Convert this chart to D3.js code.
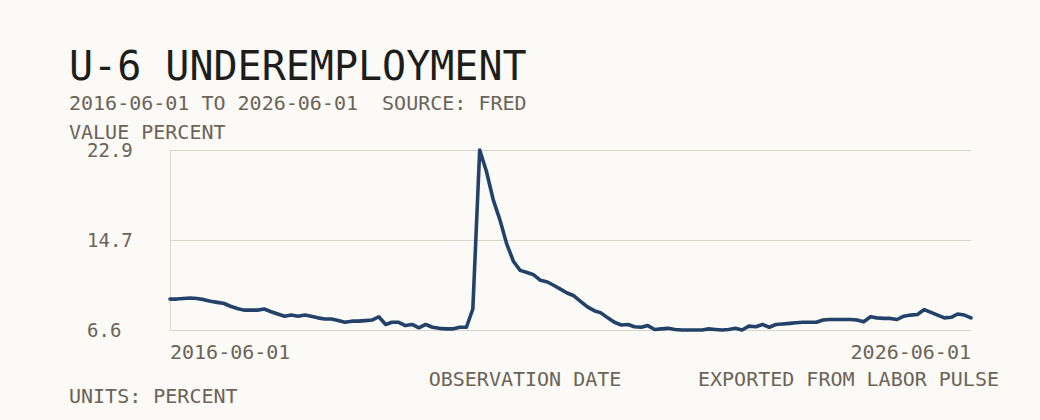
<!DOCTYPE html>
<html>
<head>
<meta charset="utf-8">
<script src="https://cdn.jsdelivr.net/npm/d3@7"></script>
<style>
  body { margin: 0; background: #fbfaf7; }
  text { font-family: "DejaVu Sans Mono", "Liberation Mono", monospace; }
</style>
</head>
<body>
<div id="chart"></div>
<script>
// Chart data (monthly)
var startDate = "2016-06-01";
var u6Values = [
  9.4, 9.4, 9.45, 9.5, 9.45, 9.35, 9.2, 9.1, 9.0, 8.75,
  8.55, 8.4, 8.4, 8.4, 8.5, 8.25, 8.05, 7.85, 7.95, 7.85,
  7.95, 7.85, 7.7, 7.6, 7.6, 7.45, 7.3, 7.4, 7.4, 7.45,
  7.5, 7.8, 7.1, 7.3, 7.3, 7.0, 7.1, 6.8, 7.1, 6.85,
  6.75, 6.7, 6.7, 6.85, 6.85, 8.5, 22.9, 21.0, 18.4, 16.6,
  14.4, 12.8, 12.0, 11.8, 11.6, 11.1, 10.95, 10.65, 10.3, 9.95,
  9.7, 9.2, 8.7, 8.35, 8.15, 7.7, 7.3, 7.05, 7.1, 6.9,
  6.85, 7.0, 6.65, 6.7, 6.75, 6.65, 6.6, 6.6, 6.6, 6.6,
  6.7, 6.65, 6.6, 6.65, 6.75, 6.6, 6.95, 6.9, 7.1, 6.85,
  7.1, 7.15, 7.2, 7.25, 7.3, 7.3, 7.3, 7.5, 7.55, 7.55,
  7.55, 7.55, 7.5, 7.35, 7.8, 7.7, 7.65, 7.65, 7.55, 7.85,
  7.95, 8.0, 8.45, 8.2, 7.95, 7.7, 7.75, 8.05, 7.95, 7.7
];
var yTickValues = [6.6, 14.75, 22.9];
var yTickLabels = ["6.6", "14.7", "22.9"];
var xTickLabels = ["2016-06-01", "2026-06-01"];

// Size of the svg and the plot area
var svgWidth = 1040;
var svgHeight = 420;
var plot = { left: 170, right: 971, top: 150, bottom: 330 };

var inkColor = "#1d1d1b";
var mutedColor = "#6b6357";
var gridColor = "#d9d5cd";
var lineColor = "#23426a";

var parseDate = d3.timeParse("%Y-%m-%d");
var start = parseDate(startDate);
var data = u6Values.map(function(v, i) {
  return { date: d3.timeMonth.offset(start, i), value: v };
});

var svg = d3.select("#chart")
  .append("svg")
  .attr("width", svgWidth)
  .attr("height", svgHeight)
  .style("background", "#fbfaf7");

// Scales
var xScale = d3.scaleTime()
  .domain(d3.extent(data, d => d.date))
  .range([plot.left, plot.right]);

var yScale = d3.scaleLinear()
  .domain([6.6, 22.9])
  .range([plot.bottom, plot.top]);

// Titles
svg.append("text")
  .attr("x", 69)
  .attr("y", 80)
  .attr("fill", inkColor)
  .style("font-size", "40px")
  .text("U-6 UNDEREMPLOYMENT");

svg.append("text")
  .attr("x", 69)
  .attr("y", 110)
  .attr("fill", mutedColor)
  .style("font-size", "20px")
  .attr("xml:space", "preserve")
  .text("2016-06-01 TO 2026-06-01  SOURCE: FRED");

svg.append("text")
  .attr("x", 69)
  .attr("y", 139)
  .attr("fill", mutedColor)
  .style("font-size", "20px")
  .text("VALUE PERCENT");

// Gridlines + y labels
var yAxis = d3.axisLeft(yScale)
  .tickValues(yTickValues)
  .tickSize(plot.left - plot.right)
  .tickFormat((d, i) => yTickLabels[i]);

var yAxisGroup = svg.append("g")
  .attr("transform", `translate(${plot.left},0)`)
  .call(yAxis);

yAxisGroup.select(".domain").remove();
yAxisGroup.selectAll(".tick line")
  .attr("stroke", gridColor)
  .attr("shape-rendering", "crispEdges");
yAxisGroup.selectAll(".tick text")
  .attr("x", 87 - plot.left)
  .attr("text-anchor", "start")
  .attr("dy", "0.36em")
  .attr("fill", mutedColor)
  .style("font-size", "19px")
  .style("font-family", "'DejaVu Sans Mono', monospace");

// left axis line
svg.append("line")
  .attr("x1", plot.left)
  .attr("x2", plot.left)
  .attr("y1", plot.top)
  .attr("y2", plot.bottom)
  .attr("stroke", gridColor)
  .attr("shape-rendering", "crispEdges");

// the series
var line = d3.line()
  .x(d => xScale(d.date))
  .y(d => yScale(d.value));

svg.append("path")
  .datum(data)
  .attr("d", line)
  .attr("fill", "none")
  .attr("stroke", lineColor)
  .attr("stroke-width", 3.6)
  .attr("stroke-linejoin", "round")
  .attr("stroke-linecap", "round");

// x labels: first and last
svg.append("text")
  .attr("x", plot.left)
  .attr("y", 359)
  .attr("fill", mutedColor)
  .style("font-size", "20px")
  .text(xTickLabels[0]);

svg.append("text")
  .attr("x", plot.right)
  .attr("y", 359)
  .attr("text-anchor", "end")
  .attr("fill", mutedColor)
  .style("font-size", "20px")
  .text(xTickLabels[1]);

// footer labels
svg.append("text")
  .attr("x", 525)
  .attr("y", 386)
  .attr("text-anchor", "middle")
  .attr("fill", mutedColor)
  .style("font-size", "20px")
  .text("OBSERVATION DATE");

svg.append("text")
  .attr("x", 999)
  .attr("y", 386)
  .attr("text-anchor", "end")
  .attr("fill", mutedColor)
  .style("font-size", "20px")
  .text("EXPORTED FROM LABOR PULSE");

svg.append("text")
  .attr("x", 69)
  .attr("y", 403)
  .attr("fill", mutedColor)
  .style("font-size", "20px")
  .text("UNITS: PERCENT");
</script>
</body>
</html>
